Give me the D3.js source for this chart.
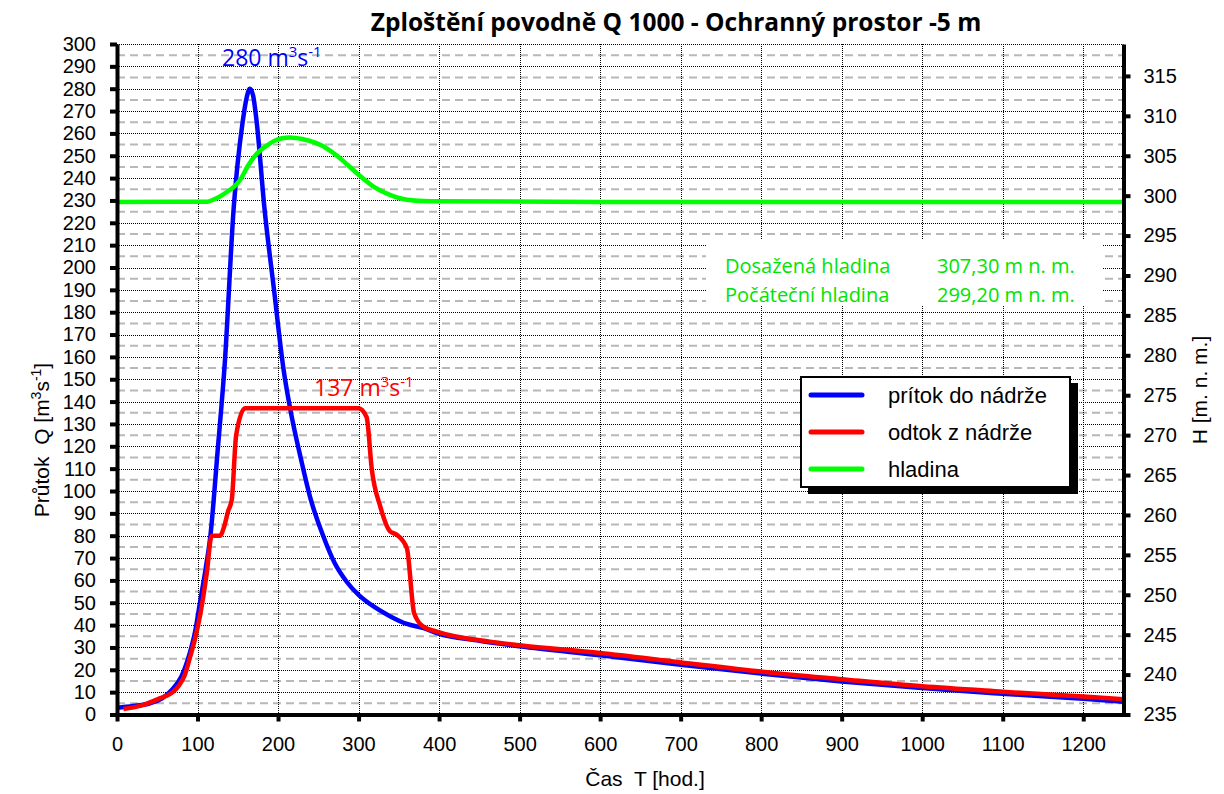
<!DOCTYPE html>
<html>
<head>
<meta charset="utf-8">
<script src="https://cdn.jsdelivr.net/npm/d3@7"></script>
<style>
  html, body { margin: 0; padding: 0; background: #fff; }
  svg { display: block; }
</style>
</head>
<body>
<svg id="chart" width="1224" height="794"></svg>
<script>
// Inflow hydrograph (přítok do nádrže), T [hod.] vs Q [m3/s]
const inflowT = [0, 20, 41, 55, 68, 80, 90, 97, 103, 110, 116, 125, 134, 145, 156, 161, 165, 169, 173.5, 183, 195, 207, 215, 228, 240, 256, 270, 285, 300, 320, 339, 360, 381, 397, 450, 500, 600, 700, 800, 900, 1000, 1100, 1200, 1250];
const inflowQ = [3, 3.8, 5, 7, 11, 17, 27, 37, 50, 65, 80, 118, 158, 227, 265, 276, 280, 277, 265, 227, 190, 154, 137, 115, 97, 80, 68, 59.5, 53.5, 48, 44, 40.5, 38.6, 36.4, 33, 30.5, 26.5, 22.3, 18.3, 14.8, 11.8, 9.3, 7, 5.7];

// Outflow hydrograph (odtok z nádrže)
const outflowT = [8, 30, 53, 70, 77, 84, 91, 97, 103, 111.4, 117.6, 128, 133, 138, 142.5, 148, 159, 300, 310, 316.5, 327, 339, 347.5, 360, 369, 380.6, 397, 463, 500, 600, 700, 800, 900, 1000, 1100, 1200, 1250];
const outflowQ = [2.5, 4, 7.2, 10.2, 13, 17.5, 26, 34, 44, 63, 80, 80, 84, 91, 96, 125, 137, 137, 133, 109.5, 93, 82, 80.4, 74.4, 45.3, 39.3, 37.1, 32.6, 31, 27.5, 23.3, 19.2, 15.8, 12.6, 10.2, 8, 6.8];

// Reservoir water level (hladina), H [m n. m.]
const levelT = [0, 112, 122, 134, 145, 153, 163, 174, 185, 194, 205, 215, 230, 256, 277, 298, 319, 339, 360, 389, 600, 1250];
const levelH = [299.2, 299.25, 299.6, 300.3, 301.1, 302, 303.8, 305.3, 306.2, 306.8, 307.2, 307.3, 307.1, 306.2, 304.7, 302.8, 301.1, 300.1, 299.5, 299.3, 299.2, 299.2];

const peakInflow = 280;
const peakOutflow = 137;
const levelReached = "307,30 m n. m.";
const levelInitial = "299,20 m n. m.";

const xTicks = d3.range(0, 1201, 100);
const qTicks = d3.range(0, 301, 10);
const hTicks = d3.range(235, 316, 5);

const legendItems = [
  { label: "prítok do nádrže", color: "#0000ff" },
  { label: "odtok z nádrže", color: "#ff0000" },
  { label: "hladina", color: "#00ff00" }
];

const svg = d3.select("#chart");
const L = 117, R = 1123.5, TOP = 44, BOT = 714.5;

const x = d3.scaleLinear().domain([0, 1250]).range([L, R]);
const yQ = d3.scaleLinear().domain([0, 300]).range([BOT, TOP]);
const yH = d3.scaleLinear().domain([235, 319]).range([BOT, TOP]);

const axisFont = "'Liberation Sans', Arial, sans-serif";
const labelFont = "'Open Sans', 'Noto Sans', sans-serif";
const NB = "\u00a0";

// grid
const grid = svg.append("g");
grid.selectAll("line.hd").data(d3.range(5, 300, 10)).join("line")
  .attr("x1", L).attr("x2", R)
  .attr("y1", d => yQ(d)).attr("y2", d => yQ(d))
  .attr("stroke", "#b8b8b8").attr("stroke-width", 2).attr("stroke-dasharray", "8,5");
grid.selectAll("line.hm").data(qTicks.filter(d => d > 0)).join("line")
  .attr("x1", L).attr("x2", R)
  .attr("y1", d => Math.round(yQ(d)) + 0.5).attr("y2", d => Math.round(yQ(d)) + 0.5)
  .attr("stroke", "#000").attr("stroke-width", 1).attr("stroke-dasharray", "1,1");
grid.selectAll("line.v").data(xTicks.filter(d => d > 0)).join("line")
  .attr("x1", d => Math.round(x(d)) + 0.5).attr("x2", d => Math.round(x(d)) + 0.5)
  .attr("y1", TOP).attr("y2", BOT)
  .attr("stroke", "#000").attr("stroke-width", 1).attr("stroke-dasharray", "1,1");

// info box with water levels
const info = svg.append("g");
info.append("rect").attr("x", 706).attr("y", 239).attr("width", 397).attr("height", 66).attr("fill", "#fff");
const infoRows = [["Dosažená hladina", levelReached, 273], ["Počáteční hladina", levelInitial, 302]];
infoRows.forEach(r => {
  info.append("text").attr("x", 725).attr("y", r[2]).text(r[0])
    .attr("font-family", labelFont).attr("font-size", 20).attr("fill", "#00e400");
  info.append("text").attr("x", 937).attr("y", r[2]).text(r[1])
    .attr("font-family", labelFont).attr("font-size", 20).attr("fill", "#00e400");
});

// series
const lineQ = (ts, qs) => d3.line().x((d, i) => x(ts[i])).y((d, i) => yQ(qs[i])).curve(d3.curveMonotoneX)(qs);
const lineH = d3.line().x((d, i) => x(levelT[i])).y((d, i) => yH(levelH[i])).curve(d3.curveMonotoneX);

const plot = svg.append("g");
plot.append("path").attr("d", lineQ(inflowT, inflowQ))
  .attr("fill", "none").attr("stroke", "#0000ff").attr("stroke-width", 4.5).attr("stroke-linejoin", "round");
plot.append("path").attr("d", lineQ(outflowT, outflowQ))
  .attr("fill", "none").attr("stroke", "#ff0000").attr("stroke-width", 4.5).attr("stroke-linejoin", "round");
plot.append("path").attr("d", lineH(levelH))
  .attr("fill", "none").attr("stroke", "#00ff00").attr("stroke-width", 4.5).attr("stroke-linejoin", "round");

// peak labels
function unitLabel(g, xPos, yPos, value, color) {
  const t = g.append("text").attr("x", xPos).attr("y", yPos)
    .attr("font-family", labelFont).attr("font-size", 23).attr("fill", color);
  t.append("tspan").text(value + " m");
  t.append("tspan").text("3").attr("font-size", 15).attr("dy", -9);
  t.append("tspan").text("s").attr("dy", 9);
  t.append("tspan").text("-1").attr("font-size", 15).attr("dy", -9);
}
unitLabel(svg, 222, 66, peakInflow, "#0000ff");
unitLabel(svg, 314, 396, peakOutflow, "#ff0000");

// axes
function styleAxis(g) {
  g.select(".domain").attr("stroke", "#000").attr("stroke-width", 4);
  g.selectAll(".tick line").attr("stroke", "#000").attr("stroke-width", 4);
  g.selectAll(".tick text").attr("font-family", axisFont).attr("font-size", 20).attr("fill", "#000");
}
const fmt = d3.format("d");
svg.append("g").attr("transform", `translate(${L},0)`)
  .call(d3.axisLeft(yQ).tickValues(qTicks).tickFormat(fmt).tickSize(7).tickSizeOuter(0).tickPadding(14))
  .call(styleAxis);
svg.append("g").attr("transform", `translate(${R},0)`)
  .call(d3.axisRight(yH).tickValues(hTicks).tickFormat(fmt).tickSize(7).tickSizeOuter(0).tickPadding(13))
  .call(styleAxis);
svg.append("g").attr("transform", `translate(0,${BOT})`)
  .call(d3.axisBottom(x).tickValues(xTicks).tickFormat(fmt).tickSize(7).tickSizeOuter(0).tickPadding(15))
  .call(styleAxis);

// titles
svg.append("text").attr("x", 676).attr("y", 31).attr("text-anchor", "middle")
  .attr("font-family", labelFont).attr("font-weight", "bold").attr("font-size", 24.5)
  .text("Zploštění povodně Q 1000 - Ochranný prostor -5 m");

svg.append("text").attr("x", 645).attr("y", 786).attr("text-anchor", "middle")
  .attr("font-family", axisFont).attr("font-size", 21).text("Čas" + NB + " T [hod.]");

const yt = svg.append("text").attr("transform", "translate(49,440) rotate(-90)").attr("text-anchor", "middle")
  .attr("font-family", axisFont).attr("font-size", 21);
yt.append("tspan").text("Průtok" + NB + " Q [m");
yt.append("tspan").text("3").attr("font-size", 14).attr("dy", -8);
yt.append("tspan").text("s").attr("dy", 8);
yt.append("tspan").text("-1").attr("font-size", 14).attr("dy", -8);
yt.append("tspan").text("]").attr("dy", 8);

svg.append("text").attr("transform", "translate(1207,390) rotate(-90)").attr("text-anchor", "middle")
  .attr("font-family", axisFont).attr("font-size", 21).text("H [m. n. m.]");

// legend
const lg = svg.append("g");
lg.append("rect").attr("x", 808).attr("y", 383).attr("width", 270).attr("height", 111).attr("fill", "#000");
lg.append("rect").attr("x", 801).attr("y", 377).attr("width", 269).attr("height", 110)
  .attr("fill", "#fff").attr("stroke", "#000").attr("stroke-width", 2);
legendItems.forEach((d, i) => {
  const cy = 395 + i * 37;
  lg.append("line").attr("x1", 811).attr("x2", 862).attr("y1", cy).attr("y2", cy)
    .attr("stroke", d.color).attr("stroke-width", 5).attr("stroke-linecap", "round");
  lg.append("text").attr("x", 888).attr("y", cy + 8).text(d.label)
    .attr("font-family", axisFont).attr("font-size", 22);
});
</script>
</body>
</html>
